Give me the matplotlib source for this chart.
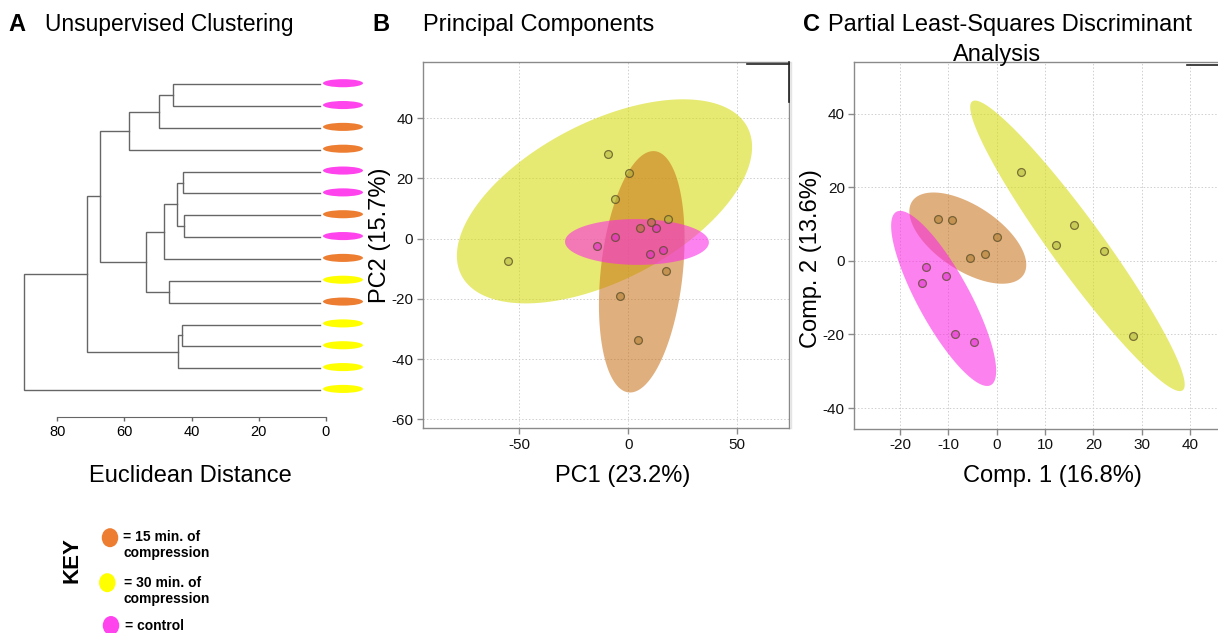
import numpy as np
import matplotlib
matplotlib.use("Agg")
import matplotlib.pyplot as plt
from matplotlib.patches import Ellipse

plt.rcParams['font.family'] = ['Liberation Sans', 'DejaVu Sans']
plt.rcParams['axes.unicode_minus'] = False

# ---------------- data ----------------
group_names = ["15 min", "30 min", "control"]
group_colors = {"15 min": "#ED7D31", "30 min": "#FFFF00", "control": "#FF44EE"}

# dendrogram leaves (top to bottom) and merges (child_a, child_b, height)
leaf_groups = ["control", "control", "15 min", "15 min", "control", "control", "15 min",
               "control", "15 min", "30 min", "15 min", "30 min", "30 min", "30 min", "30 min"]
merges = [(0, 1, 45.4), (15, 2, 49.6), (16, 3, 58.6), (4, 5, 42.5), (6, 7, 42.3),
          (18, 19, 44.4), (20, 8, 48.1), (9, 10, 46.6), (21, 22, 53.7), (17, 23, 67.3),
          (11, 12, 42.9), (25, 13, 44.0), (24, 26, 71.0), (27, 14, 89.8)]
dendro_ticks = [80, 60, 40, 20, 0]

# PCA scores
pca_x = {"15 min": [-3.8, 4.4, 17.3, 5.2, 10.6],
         "30 min": [-55.0, -9.2, 0.2, -6.0, 18.3],
         "control": [-14.5, -6.3, 12.8, 10.2, 15.8]}
pca_y = {"15 min": [-19.0, -33.6, -10.6, 3.7, 5.4],
         "30 min": [-7.4, 28.0, 21.7, 13.1, 6.5],
         "control": [-2.3, 0.7, 3.4, -5.0, -3.7]}
# confidence ellipses: center, vector to top point, horizontal half-chord
pca_ell = {"30 min": ((-10.9, 12.4), (36.1, 33.9), 57.3),
           "15 min": ((6.2, -11.0), (5.35, 40.1), 18.9),
           "control": ((4.0, -1.1), (-0.5, 7.6), 33.0)}
pca_xticks = [-50, 0, 50]
pca_yticks = [40, 20, 0, -20, -40, -60]

# PLS-DA scores
pls_x = {"15 min": [-12.2, -9.3, 0.1, -2.4, -5.5],
         "30 min": [5.0, 12.2, 16.0, 22.3, 28.2],
         "control": [-14.7, -10.6, -15.4, -8.6, -4.8]}
pls_y = {"15 min": [11.3, 11.1, 6.6, 1.9, 0.7],
         "30 min": [24.3, 4.4, 9.7, 2.6, -20.5],
         "control": [-1.6, -4.1, -6.1, -19.9, -22.0]}
pls_ell = {"30 min": ((16.7, 4.1), (-21.2, 39.5), 6.6),
           "15 min": ((-6.0, 6.2), (-7.1, 12.4), 9.8),
           "control": ((-11.0, -10.2), (-9.0, 23.8), 6.1)}
pls_xticks = [-20, -10, 0, 10, 20, 30, 40]
pls_yticks = [40, 20, 0, -20, -40]

ell_fill = {"30 min": (215/255, 220/255, 20/255, 0.6),
            "15 min": (200/255, 110/255, 20/255, 0.55),
            "control": (250/255, 40/255, 230/255, 0.58)}
pt_face = {"30 min": (170/255, 175/255, 60/255, 0.5),
           "15 min": (170/255, 120/255, 40/255, 0.5),
           "control": (220/255, 40/255, 200/255, 0.5)}

W, H = 1218, 633
fig = plt.figure(figsize=(W / 100, H / 100), dpi=100)


def rect(l, t, r, b):
    return [l / W, (H - b) / H, (r - l) / W, (b - t) / H]


def fy(y):
    return (H - y) / H


# ---------------- A: dendrogram ----------------
axd = fig.add_axes(rect(20, 70, 370, 417))
n = len(leaf_groups)
leaf_h = 1.8
pos = {i: (float(i), leaf_h) for i in range(n)}
for k, (a, b, h) in enumerate(merges):
    ya, ha = pos[a]
    yb, hb = pos[b]
    axd.plot([ha, h, h, hb], [ya, ya, yb, yb], color="#666666", lw=1.0,
             solid_joinstyle="miter")
    pos[n + k] = ((ya + yb) / 2, h)
for i, g in enumerate(leaf_groups):
    axd.add_patch(Ellipse((-5.06, i - 0.05), 11.9, 0.37, color=group_colors[g], lw=0))
axd.set_xlim(91.07, -13.1)
axd.set_ylim(15.236, -0.655)
for s in ["top", "right", "left"]:
    axd.spines[s].set_visible(False)
axd.spines["bottom"].set_bounds(0, 80)
axd.spines["bottom"].set_color("#666666")
axd.set_yticks([])
axd.set_xticks(dendro_ticks)
axd.tick_params(axis="x", length=3, width=1, color="#666666", labelsize=10.5, pad=3)

# ---------------- scatter panels ----------------
def ellipse_xy(c, a, b):
    t = np.linspace(0, 2 * np.pi, 300)
    return c[0] + a[0] * np.cos(t) + b * np.sin(t), c[1] + a[1] * np.cos(t)


def scatter_panel(ax, xs, ys, ells, xticks, yticks, xlim, ylim):
    for g in ["30 min", "15 min", "control"]:
        ex, ey = ellipse_xy(*ells[g])
        ax.fill(ex, ey, color=ell_fill[g], lw=0, zorder=2)
    for g in ["30 min", "15 min", "control"]:
        ax.scatter(xs[g], ys[g], s=32, facecolor=pt_face[g],
                   edgecolor=(0.35, 0.3, 0.15, 0.75), linewidth=0.9, zorder=3)
    ax.set_xticks(xticks)
    ax.set_yticks(yticks)
    ax.set_xlim(*xlim)
    ax.set_ylim(*ylim)
    ax.grid(True, color="#cfcfcf", lw=0.7, ls=(0, (1.5, 2)))
    ax.set_axisbelow(True)
    for s in ax.spines.values():
        s.set_color("#8a8a8a")
        s.set_linewidth(1.0)
    ax.tick_params(length=4.3, width=1, color="#8a8a8a", labelsize=11, pad=2.5,
                   labelcolor="#111111")


axp = fig.add_axes(rect(422.7, 62, 789.3, 428.3))
scatter_panel(axp, pca_x, pca_y, pca_ell, pca_xticks, pca_yticks, (-94.3, 73.9), (-63.0, 58.7))
axp.plot([0.884, 1.0], [0.995, 0.995], transform=axp.transAxes, color="#222222", lw=1.2, zorder=5, clip_on=False)
axp.plot([1.0, 1.0], [1.0, 0.892], transform=axp.transAxes, color="#222222", lw=1.2, zorder=5, clip_on=False)

axl = fig.add_axes(rect(854.3, 62.3, 1218, 429))
scatter_panel(axl, pls_x, pls_y, pls_ell, pls_xticks, pls_yticks, (-29.5, 45.8), (-45.7, 54.0))
axl.spines["right"].set_visible(False)
axl.plot([0.915, 1.0], [0.993, 0.993], transform=axl.transAxes, color="#222222", lw=1.2, zorder=5, clip_on=False)

# ---------------- texts ----------------
fig.text(8 / W, fy(31), "A", fontsize=17, fontweight="bold", va="baseline")
fig.text(45 / W, fy(31), "Unsupervised Clustering", fontsize=16.4, va="baseline")
fig.text(372 / W, fy(31), "B", fontsize=17, fontweight="bold", va="baseline")
fig.text(423 / W, fy(31), "Principal Components", fontsize=17, va="baseline")
fig.text(803 / W, fy(31), "C", fontsize=17, fontweight="bold", va="baseline")
fig.text(828 / W, fy(31), "Partial Least-Squares Discriminant", fontsize=17, va="baseline")
fig.text(997 / W, fy(61), "Analysis", fontsize=17, va="baseline", ha="center")

fig.text(190.2 / W, fy(481.7), "Euclidean Distance", fontsize=17, va="baseline", ha="center")
fig.text(622.5 / W, fy(482), "PC1 (23.2%)", fontsize=17, va="baseline", ha="center")
fig.text(1052 / W, fy(482), "Comp. 1 (16.8%)", fontsize=17, va="baseline", ha="center")
fig.text(380 / W, fy(235.6), "PC2 (15.7%)", fontsize=17, va="center", ha="center", rotation=90)
fig.text(811.5 / W, fy(259), "Comp. 2 (13.6%)", fontsize=17, va="center", ha="center", rotation=90)

# ---------------- key ----------------
axk = fig.add_axes([0, 0, 1, 1], zorder=10)
axk.set_xlim(0, W)
axk.set_ylim(H, 0)
axk.axis("off")
axk.plot([791, 791], [62, 428], color="#e4e4e4", lw=1)
axk.text(72, 560, "KEY", fontsize=16, fontweight="bold", rotation=90, ha="center", va="center")
key_items = [("15 min", (110, 537.7), "= 15 min. of\ncompression", (123, 545)),
             ("30 min", (107.3, 582.7), "= 30 min. of\ncompression", (124, 591)),
             ("control", (111, 625.5), "= control", (125, 626))]
for g, (cx, cy), label, (tx, ty) in key_items:
    axk.add_patch(Ellipse((cx, cy), 16.5, 19, color=group_colors[g], lw=0))
    axk.text(tx, ty, label, fontsize=10, fontweight="bold", ha="left", va="center",
             linespacing=1.15)

fig.savefig("out.png", dpi=100)
